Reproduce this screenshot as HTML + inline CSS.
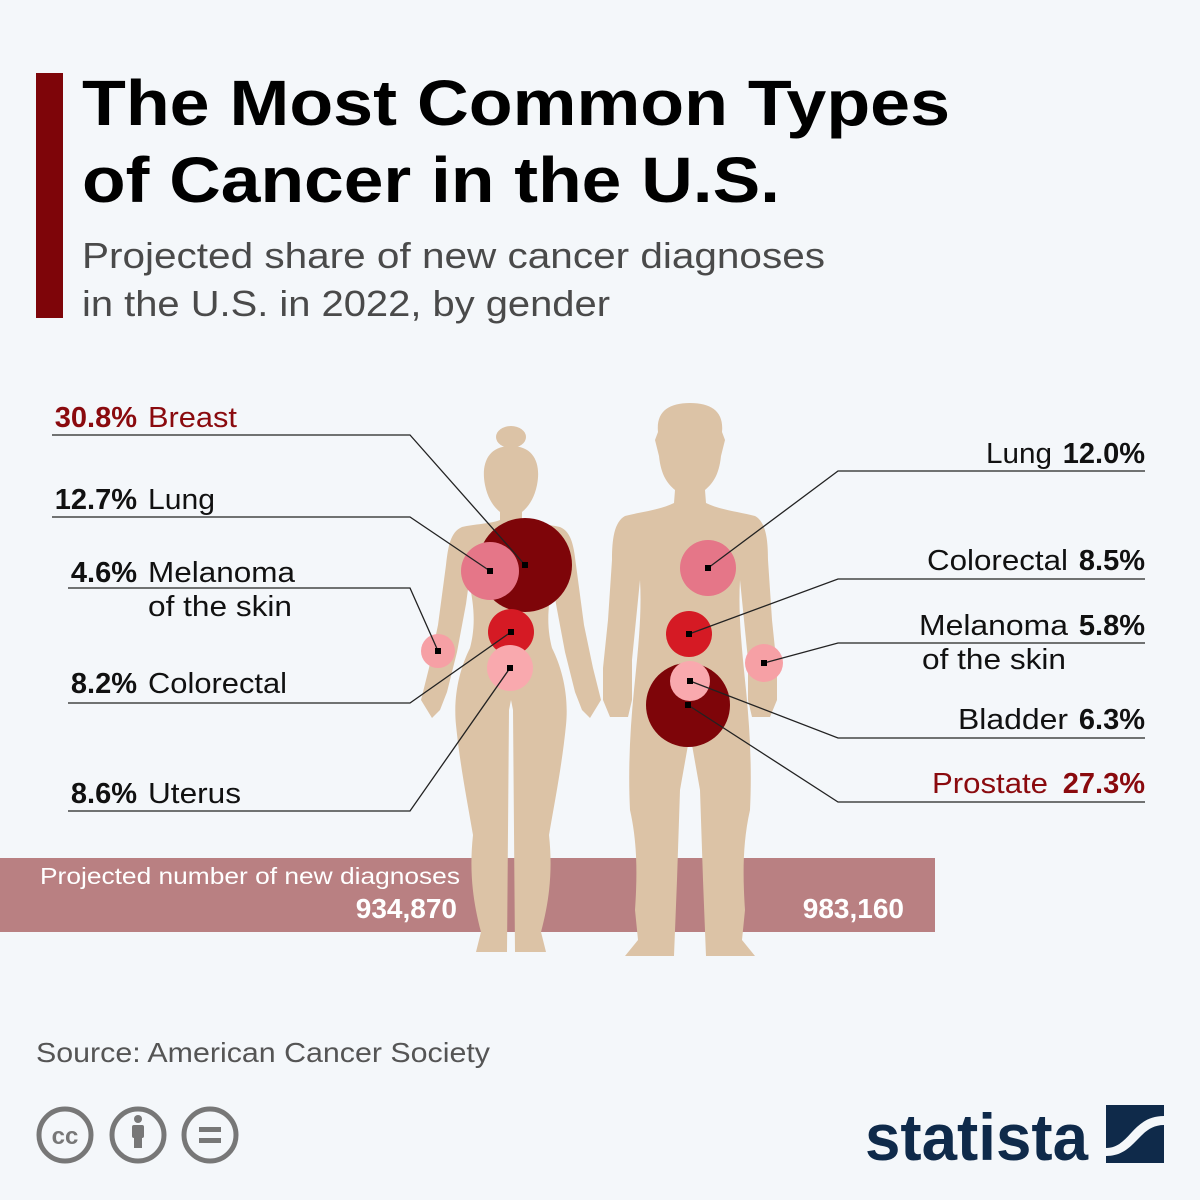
<!DOCTYPE html>
<html><head><meta charset="utf-8"><style>
html,body{margin:0;padding:0;background:#f4f7fa}
svg{display:block}
text{font-family:"Liberation Sans",sans-serif}
</style></head><body>
<svg width="1200" height="1200" viewBox="0 0 1200 1200" xmlns="http://www.w3.org/2000/svg">
<rect width="1200" height="1200" fill="#f4f7fa"/>
<rect x="36" y="73" width="27" height="245" fill="#7e0509"/>
<text x="82" y="125" font-size="64" font-weight="bold" fill="#000" textLength="868" lengthAdjust="spacingAndGlyphs">The Most Common Types</text>
<text x="82" y="202" font-size="64" font-weight="bold" fill="#000" textLength="698" lengthAdjust="spacingAndGlyphs">of Cancer in the U.S.</text>
<text x="82" y="268" font-size="36" fill="#4a4a4a" textLength="743" lengthAdjust="spacingAndGlyphs">Projected share of new cancer diagnoses</text>
<text x="82" y="316" font-size="36" fill="#4a4a4a" textLength="528" lengthAdjust="spacingAndGlyphs">in the U.S. in 2022, by gender</text>

<rect x="0" y="858" width="935" height="74" fill="#b98082"/>
<text x="40" y="884" font-size="23" fill="#fff" textLength="420" lengthAdjust="spacingAndGlyphs">Projected number of new diagnoses</text>
<text x="457" y="918" font-size="28" font-weight="bold" fill="#fff" text-anchor="end">934,870</text>
<text x="904" y="918" font-size="28" font-weight="bold" fill="#fff" text-anchor="end">983,160</text>

<g fill="#dcc3a6">
<ellipse cx="511" cy="437" rx="15" ry="11"/>
<path d="M511,446 C535,446 541,465 537,485 C534,500 527,508 522,512 L522,520 C532,524 548,524 560,527 C572,532 574,548 576,565 L584,625 L593,668 L601,700 L590,718 L582,710 L575,692 L565,652 L556,604 L553,582 C548,605 546,625 552,648 C562,668 569,695 566,725 C562,765 555,800 549,835 C553,872 549,902 541,932 L546,952 L515,952 L513,710 L511,700 L509,710 L507,952 L476,952 L481,932 C473,902 469,872 473,835 C467,800 460,765 456,725 C453,695 460,668 470,648 C476,625 474,605 469,582 L466,604 L457,652 L447,692 L440,710 L432,718 L421,700 L429,668 L438,625 L446,565 C448,548 450,532 462,527 C474,524 490,524 500,520 L500,512 C495,508 488,500 485,485 C481,465 487,446 511,446Z"/>
</g>
<g fill="#dcc3a6">
<path d="M690,403 C712,403 724,412 722,432 L725,440 L721,456 C719,476 712,484 705,490 L706,503 C720,510 740,512 755,516 C766,522 768,540 768,560 L772,620 L777,668 L777,700 L770,717 L752,717 L748,700 L748,660 L743,610 L740,580 C738,615 742,650 746,690 C750,730 752,770 750,810 C742,845 743,880 745,910 L742,940 L755,956 L706,956 L703,880 L700,790 L692,745 L688,745 L680,790 L677,880 L674,956 L625,956 L638,940 L635,910 C637,880 638,845 630,810 C628,770 630,730 634,690 C638,650 642,615 640,580 L637,610 L632,660 L632,700 L628,717 L610,717 L603,700 L603,668 L608,620 L612,560 C612,540 614,522 625,516 C640,512 660,510 674,503 L675,490 C668,484 661,476 659,456 L655,440 L658,432 C656,412 668,403 690,403Z"/>
</g>

<circle cx="525" cy="565" r="47" fill="#7e0509"/>
<circle cx="490" cy="571" r="29" fill="#e57688"/>
<circle cx="438" cy="651" r="17" fill="#f6a0a5"/>
<circle cx="511" cy="632" r="23" fill="#d51a24"/>
<circle cx="510" cy="668" r="23" fill="#f9a9ae"/>
<circle cx="708" cy="568" r="28" fill="#e57688"/>
<circle cx="689" cy="634" r="23" fill="#d51a24"/>
<circle cx="764" cy="663" r="19" fill="#f6a0a5"/>
<circle cx="688" cy="705" r="42" fill="#7e0509"/>
<circle cx="690" cy="681" r="20" fill="#f9a9ae"/>

<g stroke="#222" stroke-width="1.3" fill="none">
<polyline points="52,435 410,435 525,565"/>
<polyline points="52,517 410,517 490,571"/>
<polyline points="68,588 410,588 438,651"/>
<polyline points="68,703 410,703 511,632"/>
<polyline points="68,811 410,811 510,668"/>
<polyline points="1145,471 838,471 708,568"/>
<polyline points="1145,579 838,579 689,634"/>
<polyline points="1145,643 838,643 764,663"/>
<polyline points="1145,738 838,738 690,681"/>
<polyline points="1145,802 838,802 688,705"/>
</g>
<g fill="#000">
<rect x="522" y="562" width="6" height="6"/><rect x="487" y="568" width="6" height="6"/>
<rect x="435" y="648" width="6" height="6"/><rect x="508" y="629" width="6" height="6"/>
<rect x="507" y="665" width="6" height="6"/><rect x="705" y="565" width="6" height="6"/>
<rect x="686" y="631" width="6" height="6"/><rect x="761" y="660" width="6" height="6"/>
<rect x="685" y="702" width="6" height="6"/><rect x="687" y="678" width="6" height="6"/>
</g>

<g font-size="29">
<text x="137" y="427" text-anchor="end" font-weight="bold" fill="#8a0a0e">30.8%</text>
<text x="148" y="427" fill="#8a0a0e" textLength="89" lengthAdjust="spacingAndGlyphs">Breast</text>
<text x="137" y="509" text-anchor="end" font-weight="bold" fill="#111">12.7%</text>
<text x="148" y="509" fill="#111" textLength="67" lengthAdjust="spacingAndGlyphs">Lung</text>
<text x="137" y="582" text-anchor="end" font-weight="bold" fill="#111">4.6%</text>
<text x="148" y="582" fill="#111" textLength="147" lengthAdjust="spacingAndGlyphs">Melanoma</text>
<text x="148" y="616" fill="#111" textLength="144" lengthAdjust="spacingAndGlyphs">of the skin</text>
<text x="137" y="693" text-anchor="end" font-weight="bold" fill="#111">8.2%</text>
<text x="148" y="693" fill="#111" textLength="139" lengthAdjust="spacingAndGlyphs">Colorectal</text>
<text x="137" y="803" text-anchor="end" font-weight="bold" fill="#111">8.6%</text>
<text x="148" y="803" fill="#111" textLength="93" lengthAdjust="spacingAndGlyphs">Uterus</text>

<text x="1145" y="463" text-anchor="end" font-weight="bold" fill="#111">12.0%</text>
<text x="986" y="463" fill="#111" textLength="66" lengthAdjust="spacingAndGlyphs">Lung</text>
<text x="1145" y="570" text-anchor="end" font-weight="bold" fill="#111">8.5%</text>
<text x="927" y="570" fill="#111" textLength="141" lengthAdjust="spacingAndGlyphs">Colorectal</text>
<text x="1145" y="635" text-anchor="end" font-weight="bold" fill="#111">5.8%</text>
<text x="919" y="635" fill="#111" textLength="149" lengthAdjust="spacingAndGlyphs">Melanoma</text>
<text x="922" y="669" fill="#111" textLength="144" lengthAdjust="spacingAndGlyphs">of the skin</text>
<text x="1145" y="729" text-anchor="end" font-weight="bold" fill="#111">6.3%</text>
<text x="958" y="729" fill="#111" textLength="110" lengthAdjust="spacingAndGlyphs">Bladder</text>
<text x="1145" y="793" text-anchor="end" font-weight="bold" fill="#8a0a0e">27.3%</text>
<text x="932" y="793" fill="#8a0a0e" textLength="116" lengthAdjust="spacingAndGlyphs">Prostate</text>
</g>

<text x="36" y="1062" font-size="28" fill="#555" textLength="454" lengthAdjust="spacingAndGlyphs">Source: American Cancer Society</text>

<g stroke="#777" stroke-width="5" fill="none">
<circle cx="65" cy="1135" r="26"/><circle cx="138" cy="1135" r="26"/><circle cx="210" cy="1135" r="26"/>
</g>
<text x="65" y="1144" font-size="24" font-weight="bold" fill="#777" text-anchor="middle">cc</text>
<g fill="#777">
<circle cx="138" cy="1119" r="4"/><rect x="132" y="1125" width="12" height="13" rx="2"/><rect x="134" y="1136" width="8" height="12"/>
<rect x="199" y="1127" width="22" height="5"/><rect x="199" y="1138" width="22" height="5"/>
</g>

<text x="865" y="1160" font-size="66" font-weight="bold" fill="#0f2a4a" textLength="223" lengthAdjust="spacingAndGlyphs">statista</text>
<rect x="1106" y="1105" width="58" height="58" fill="#0f2a4a"/>
<path d="M1106,1148 C1130,1148 1132,1116 1164,1116 L1164,1125 C1138,1125 1136,1156 1106,1156Z" fill="#f4f7fa"/>
</svg>
</body></html>
